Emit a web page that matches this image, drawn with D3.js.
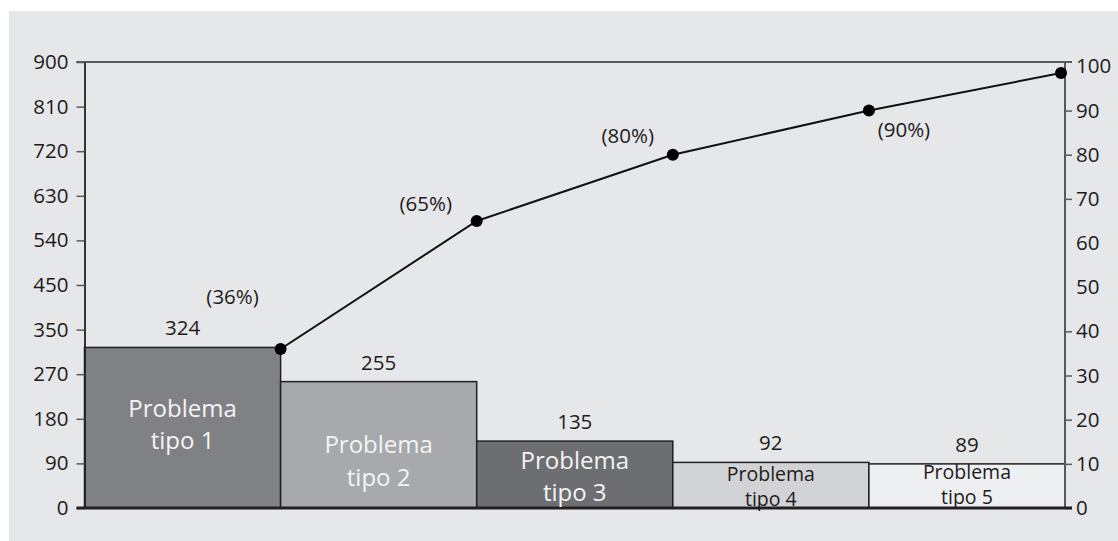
<!DOCTYPE html>
<html>
<head>
<meta charset="utf-8">
<script src="https://cdn.jsdelivr.net/npm/d3@7"></script>
<style>
  html, body { margin: 0; padding: 0; background: #ffffff; }
  svg { display: block; font-family: "Open Sans", "Noto Sans", sans-serif; }
</style>
</head>
<body>
<svg id="chart" width="1118" height="541"></svg>
<script>
// Pareto data: problem categories, counts and cumulative share
const categories = ["Problema tipo 1", "Problema tipo 2", "Problema tipo 3", "Problema tipo 4", "Problema tipo 5"];
const counts = [324, 255, 135, 92, 89];
const cumulativePct = [36, 65, 80, 90, 98.5];
const pctLabels = ["(36%)", "(65%)", "(80%)", "(90%)", ""];
const leftTickValues = [0, 90, 180, 270, 360, 450, 540, 630, 720, 810, 900];
const leftTickLabels = ["0", "90", "180", "270", "350", "450", "540", "630", "720", "810", "900"];
const rightTickValues = [0, 10, 20, 30, 40, 50, 60, 70, 80, 90, 100];

// Styling
const barColors = ["#808184", "#a7a9ac", "#6d6e71", "#d1d3d4", "#eeeff0"];
const labelColors = ["#f4f4f4", "#f4f4f4", "#f4f4f4", "#1e1b1c", "#1e1b1c"];
const labelSizes = [24, 24, 24, 19.5, 19.5];
// baseline offsets (px above the zero line) of the two label lines in each bar
const labelLift = [[91, 59], [55, 22], [39, 7], [27, 2.5], [29, 4.5]];
// offsets of the cumulative % annotations relative to their dots
const pctOffset = [[-48, -45], [-51, -10], [-45, -12], [35, 26], [0, 0]];

const svg = d3.select("#chart");
const ink = "#1e1b1c";

// gray panel
svg.append("rect").attr("x", 9).attr("y", 11).attr("width", 1109).attr("height", 530).attr("fill", "#e6e7e8");

const plotLeft = 84.5, plotRight = 1065, plotTop = 62, plotBottom = 508;

const x = d3.scaleBand().domain(categories).range([plotLeft, plotRight]).padding(0);
const y = d3.scaleLinear().domain([0, 900]).range([plotBottom, plotTop]);
const y2 = d3.scaleLinear().domain([0, 101]).range([plotBottom, plotTop]);

// bars
svg.append("g").selectAll("rect").data(categories).join("rect")
  .attr("x", d => x(d))
  .attr("y", (d, i) => y(counts[i]))
  .attr("width", x.bandwidth())
  .attr("height", (d, i) => y(0) - y(counts[i]))
  .attr("fill", (d, i) => barColors[i])
  .attr("stroke", "#231f20")
  .attr("stroke-width", 1.5);

// top frame line
svg.append("line").attr("x1", plotLeft - 8).attr("x2", plotRight + 7).attr("y1", plotTop).attr("y2", plotTop)
  .attr("stroke", "#58595b").attr("stroke-width", 2.2);

// left axis
const gl = svg.append("g").attr("transform", `translate(${plotLeft},0)`)
  .call(d3.axisLeft(y).tickValues(leftTickValues).tickFormat((d, i) => leftTickLabels[i]).tickSize(8).tickPadding(8).tickSizeOuter(0));
gl.select(".domain").attr("stroke", "#231f20").attr("stroke-width", 1.8);
gl.selectAll(".tick line").attr("stroke", "#58595b").attr("stroke-width", 1.5);
gl.selectAll(".tick text").attr("fill", ink).style("font-size", "20.5px").style("font-family", "'Open Sans', sans-serif");

// right axis
const gr = svg.append("g").attr("transform", `translate(${plotRight},0)`)
  .call(d3.axisRight(y2).tickValues(rightTickValues).tickSize(7).tickPadding(4).tickSizeOuter(0));
gr.select(".domain").attr("stroke", "#58595b").attr("stroke-width", 2).attr("d", `M0,${plotTop}V${plotBottom}`);
gr.selectAll(".tick line").attr("stroke", "#58595b").attr("stroke-width", 1.5)
  .attr("opacity", d => (d === 50 || d === 60 || d === 100) ? 0 : 1);
gr.selectAll(".tick text").attr("fill", ink).style("font-size", "20.5px").style("font-family", "'Open Sans', sans-serif");

// bottom axis line
svg.append("line").attr("x1", plotLeft - 8).attr("x2", plotRight + 7).attr("y1", plotBottom).attr("y2", plotBottom)
  .attr("stroke", "#231f20").attr("stroke-width", 3);

// value labels above bars
svg.append("g").selectAll("text").data(categories).join("text")
  .attr("x", d => x(d) + x.bandwidth() / 2)
  .attr("y", (d, i) => y(counts[i]) - 12)
  .attr("text-anchor", "middle")
  .attr("fill", ink)
  .style("font-size", "20.5px")
  .text((d, i) => counts[i]);

// category labels inside bars
categories.forEach((c, i) => {
  const cut = c.indexOf(" tipo");
  const parts = [c.slice(0, cut), c.slice(cut + 1)];
  parts.forEach((p, j) => {
    svg.append("text")
      .attr("x", x(c) + x.bandwidth() / 2)
      .attr("y", plotBottom - labelLift[i][j])
      .attr("text-anchor", "middle")
      .attr("fill", labelColors[i])
      .style("font-size", labelSizes[i] + "px")
      .text(p);
  });
});

// cumulative line
const dotX = (c) => Math.min(x(c) + x.bandwidth(), plotRight - 4);
const line = d3.line().x(d => dotX(d)).y((d, i) => y2(cumulativePct[i]));
svg.append("path").datum(categories)
  .attr("d", line)
  .attr("fill", "none")
  .attr("stroke", "#111")
  .attr("stroke-width", 2);

svg.append("g").selectAll("circle").data(categories).join("circle")
  .attr("cx", d => dotX(d))
  .attr("cy", (d, i) => y2(cumulativePct[i]))
  .attr("r", 6)
  .attr("fill", "#000");

// cumulative % annotations
svg.append("g").selectAll("text").data(categories).join("text")
  .attr("x", (d, i) => dotX(d) + pctOffset[i][0])
  .attr("y", (d, i) => y2(cumulativePct[i]) + pctOffset[i][1])
  .attr("text-anchor", "middle")
  .attr("fill", ink)
  .style("font-size", "20.5px")
  .text((d, i) => pctLabels[i]);
</script>
</body>
</html>
